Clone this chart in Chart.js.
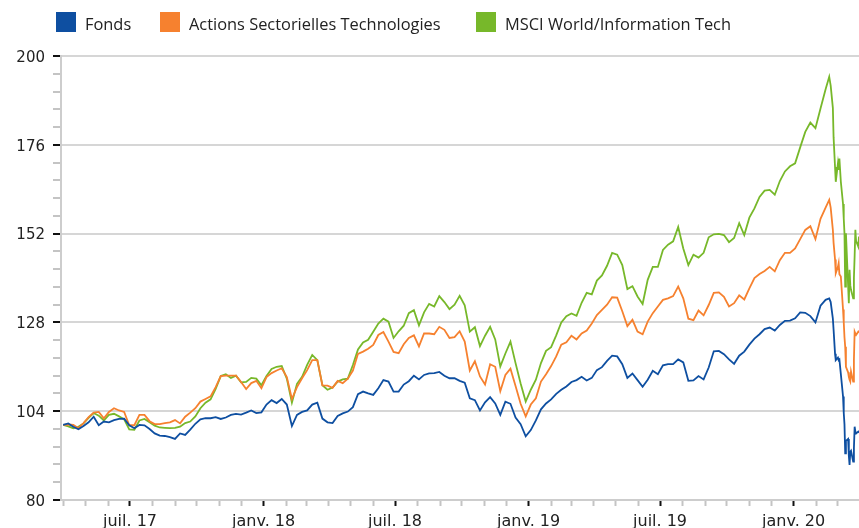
<!DOCTYPE html>
<html>
<head>
<meta charset="utf-8">
<script src="https://cdn.jsdelivr.net/npm/chart.js@4.4.1/dist/chart.umd.min.js"></script>
<style>
  html, body { margin: 0; padding: 0; background: #fff; }
  #wrap { position: relative; width: 859px; height: 528px; overflow: hidden; }
  #chart { position: absolute; left: 0; top: 0; }
  .lg-box { position: absolute; top: 12px; width: 20px; height: 20px; }
  .lg-text { position: absolute; top: 12px; font: 16.4px "Open Sans", sans-serif; color: #222; line-height: 24px; white-space: nowrap; }
</style>
</head>
<body>
<div id="wrap">
  <canvas id="chart" width="859" height="528"></canvas>
  <div id="legend"></div>
</div>
<script>
// weekly closes, then daily around the March 2020 crash
const dates = [
  '2017-03-31','2017-04-07','2017-04-14','2017-04-21','2017-04-28','2017-05-05','2017-05-12','2017-05-19','2017-05-26','2017-06-02',
  '2017-06-09','2017-06-16','2017-06-23','2017-06-30','2017-07-07','2017-07-14','2017-07-21','2017-07-28','2017-08-04','2017-08-11',
  '2017-08-18','2017-08-25','2017-09-01','2017-09-08','2017-09-15','2017-09-22','2017-09-29','2017-10-06','2017-10-13','2017-10-20',
  '2017-10-27','2017-11-03','2017-11-10','2017-11-17','2017-11-24','2017-12-01','2017-12-08','2017-12-15','2017-12-22','2017-12-29',
  '2018-01-05','2018-01-12','2018-01-19','2018-01-26','2018-02-02','2018-02-09','2018-02-16','2018-02-23','2018-03-02','2018-03-09',
  '2018-03-16','2018-03-23','2018-03-30','2018-04-06','2018-04-13','2018-04-20','2018-04-27','2018-05-04','2018-05-11','2018-05-18',
  '2018-05-25','2018-06-01','2018-06-08','2018-06-15','2018-06-22','2018-06-29','2018-07-06','2018-07-13','2018-07-20','2018-07-27',
  '2018-08-03','2018-08-10','2018-08-17','2018-08-24','2018-08-31','2018-09-07','2018-09-14','2018-09-21','2018-09-28','2018-10-05',
  '2018-10-12','2018-10-19','2018-10-26','2018-11-02','2018-11-09','2018-11-16','2018-11-23','2018-11-30','2018-12-07','2018-12-14',
  '2018-12-21','2018-12-28','2019-01-04','2019-01-11','2019-01-18','2019-01-25','2019-02-01','2019-02-08','2019-02-15','2019-02-22',
  '2019-03-01','2019-03-08','2019-03-15','2019-03-22','2019-03-29','2019-04-05','2019-04-12','2019-04-19','2019-04-26','2019-05-03',
  '2019-05-10','2019-05-17','2019-05-24','2019-05-31','2019-06-07','2019-06-14','2019-06-21','2019-06-28','2019-07-05','2019-07-12',
  '2019-07-19','2019-07-26','2019-08-02','2019-08-09','2019-08-16','2019-08-23','2019-08-30','2019-09-06','2019-09-13','2019-09-20',
  '2019-09-27','2019-10-04','2019-10-11','2019-10-18','2019-10-25','2019-11-01','2019-11-08','2019-11-15','2019-11-22','2019-11-29',
  '2019-12-06','2019-12-13','2019-12-20','2019-12-27','2020-01-03','2020-01-10','2020-01-17','2020-01-24','2020-01-31','2020-02-07',
  '2020-02-14',
  '2020-02-19','2020-02-21','2020-02-24','2020-02-25','2020-02-27','2020-02-28','2020-03-02','2020-03-03','2020-03-04','2020-03-06',
  '2020-03-09','2020-03-10','2020-03-11','2020-03-12','2020-03-13','2020-03-16','2020-03-17','2020-03-18','2020-03-19','2020-03-20',
  '2020-03-23','2020-03-24','2020-03-25','2020-03-26','2020-03-27','2020-03-30','2020-03-31'
];

const fonds = [
  100.3, 100.7, 99.8, 99.1, 100.0, 101.0, 102.5, 100.2, 101.2, 101.0,
  101.6, 101.9, 102.0, 100.2, 99.4, 100.3, 100.2, 99.2, 98.0, 97.4,
  97.3, 97.0, 96.5, 98.0, 97.6, 99.0, 100.6, 101.8, 102.1, 102.1,
  102.4, 101.9, 102.3, 103.0, 103.3, 103.1, 103.6, 104.2, 103.5, 103.7,
  105.8, 107.0, 106.2, 107.3, 105.8, 100.0, 103.0, 103.8, 104.2, 105.8,
  106.3, 102.0, 101.0, 100.8, 102.7, 103.4, 103.9, 105.1, 108.6, 109.3,
  108.8, 108.4, 110.2, 112.4, 112.0, 109.3, 109.3, 111.2, 112.1, 113.6,
  112.6, 113.8, 114.2, 114.3, 114.6, 113.6, 112.9, 112.9, 112.2, 111.7,
  107.5, 107.0, 104.2, 106.4, 107.8, 106.1, 103.0, 106.6, 106.0, 102.3,
  100.5, 97.2, 98.9, 101.5, 104.5, 106.1, 107.2, 108.7, 109.8, 110.7,
  111.9, 112.4, 113.3, 112.3, 113.0, 115.1, 115.9, 117.6, 119.0, 118.8,
  116.7, 113.0, 114.2, 112.4, 110.6, 112.5, 114.9, 114.0, 116.4, 116.7,
  116.7, 118.0, 117.2, 112.2, 112.3, 113.5, 112.6, 115.8, 120.2, 120.3,
  119.4, 118.0, 116.8, 119.0, 120.1, 122.0, 123.6, 124.8, 126.2, 126.6,
  125.8, 127.3, 128.4, 128.5, 129.1, 130.7, 130.6, 129.7, 128.0, 132.5,
  134.1,
  134.5, 133.5, 129.0, 126.0, 119.5, 117.8, 118.5, 117.8, 118.0, 114.0,
  108.0, 103.5, 100.5, 92.6, 96.0, 96.5, 92.0, 89.5, 93.0, 93.3,
  90.4, 94.0, 99.8, 98.5, 98.0, 98.5, 98.2
];

const actionsTech = [
  100.3, 100.4, 100.3, 99.4, 100.8, 102.4, 103.6, 103.8, 102.1, 103.8,
  104.8, 104.2, 103.8, 100.2, 100.2, 103.0, 103.0, 101.3, 100.5, 100.5,
  100.8, 101.0, 101.6, 100.7, 102.5, 103.6, 104.8, 106.6, 107.3, 108.0,
  110.5, 113.5, 113.6, 113.6, 113.6, 111.9, 110.0, 111.6, 112.2, 110.2,
  113.2, 114.3, 115.0, 115.6, 113.2, 107.3, 110.5, 112.9, 115.1, 117.8,
  117.8, 111.0, 110.9, 110.3, 112.2, 111.6, 112.8, 115.0, 119.5, 120.1,
  120.9, 121.9, 124.6, 125.4, 122.8, 120.0, 119.7, 122.1, 123.8, 124.5,
  121.5, 125.0, 125.0, 124.8, 126.8, 126.0, 123.8, 124.0, 125.6, 122.8,
  115.0, 117.5, 113.4, 111.2, 116.7, 116.0, 109.4, 113.8, 115.5, 110.8,
  106.0, 102.6, 105.8, 107.5, 112.0, 114.0, 116.2, 118.8, 122.0, 122.6,
  124.4, 123.4, 125.0, 125.8, 127.7, 130.0, 131.4, 132.8, 134.8, 134.7,
  131.0, 127.0, 128.7, 125.5, 124.8, 128.2, 130.5, 132.3, 134.1, 134.5,
  135.1, 137.7, 134.5, 129.0, 128.6, 131.2, 129.9, 132.7, 136.0, 136.1,
  134.9, 132.3, 133.2, 135.3, 134.2, 137.2, 140.0, 141.1, 141.9, 143.0,
  141.8, 144.8, 146.8, 146.8, 148.0, 150.5, 153.0, 154.0, 150.5, 156.0,
  159.0,
  161.1, 159.0, 153.0, 149.5, 145.0, 141.3, 143.0, 144.0, 141.0, 140.4,
  131.5, 128.0, 124.0, 121.4, 116.0, 114.5, 113.3, 112.5, 112.0, 114.7,
  112.0, 118.0, 125.5, 125.0, 124.6, 125.5, 125.2
];

const msciTech = [
  100.3, 99.9, 99.4, 99.8, 100.7, 102.2, 103.5, 102.8, 101.5, 103.0,
  103.3, 102.6, 101.8, 99.1, 99.0, 101.5, 101.9, 101.0, 100.1, 99.6,
  99.5, 99.4, 99.5, 99.8, 100.8, 101.2, 102.6, 104.8, 106.3, 107.2,
  110.0, 113.5, 114.0, 113.0, 113.6, 111.8, 111.9, 113.0, 112.8, 111.0,
  113.5, 115.4, 116.0, 116.2, 112.8, 106.3, 111.4, 113.3, 116.5, 119.2,
  117.8, 111.0, 109.8, 110.4, 112.0, 112.6, 112.8, 116.5, 120.7, 122.6,
  123.3, 125.5, 127.7, 129.0, 128.2, 123.8, 125.6, 127.1, 130.5, 131.3,
  127.2, 130.7, 133.0, 132.3, 135.1, 133.5, 131.6, 132.8, 135.2, 132.6,
  125.5, 126.7, 121.6, 124.4, 126.8, 123.4, 116.1, 119.6, 122.8, 117.0,
  111.5, 106.6, 109.8, 112.5, 117.0, 120.3, 121.3, 124.5, 128.0, 129.7,
  130.4, 129.8, 133.3, 136.0, 135.6, 139.3, 140.7, 143.3, 146.8, 146.3,
  143.5, 137.0, 137.8, 135.0, 133.0, 139.5, 143.0, 143.0, 147.6, 149.0,
  149.9, 153.8, 148.0, 143.5, 146.3, 145.5, 146.8, 151.0, 151.8, 151.9,
  151.6, 149.7, 150.8, 154.8, 151.6, 156.3, 158.8, 161.9, 163.6, 163.8,
  162.5, 166.2, 168.8, 170.2, 171.0, 175.3, 179.5, 182.0, 180.5, 185.8,
  191.0,
  194.4, 192.0, 186.0, 178.0, 170.0, 166.0, 171.0, 169.2, 172.3, 166.0,
  160.0, 156.0, 152.1, 137.7, 152.1, 138.0, 133.2, 142.2, 138.0, 136.8,
  134.5, 140.0, 146.0, 153.0, 150.0, 148.5, 151.2
];

const seriesNames = ['Fonds', 'Actions Sectorielles Technologies', 'MSCI World/Information Tech'];
const seriesColors = ['#0e4fa1', '#f6812f', '#77b82a'];
const legendLeft = [56, 160, 476];

const yMajorTicks = [80, 104, 128, 152, 176, 200];
const xTickDates = ['2017-07-01', '2018-01-01', '2018-07-01', '2019-01-01', '2019-07-01', '2020-01-01'];
const xTickLabels = ['juil. 17', 'janv. 18', 'juil. 18', 'janv. 19', 'juil. 19', 'janv. 20'];
const xStart = '2017-03-28';
const xEnd = '2020-03-31';

// legend
const legend = document.getElementById('legend');
seriesNames.forEach((name, i) => {
  const box = document.createElement('div');
  box.className = 'lg-box';
  box.style.left = legendLeft[i] + 'px';
  box.style.background = seriesColors[i];
  const txt = document.createElement('div');
  txt.className = 'lg-text';
  txt.style.left = (legendLeft[i] + 29) + 'px';
  txt.textContent = name;
  legend.appendChild(box);
  legend.appendChild(txt);
});

// monthly minor ticks, half-year majors with labels
const majorX = xTickDates.map(d => Date.parse(d));
function buildXTicks(scale) {
  const ticks = [];
  for (let y = 2017; y <= 2020; y++) {
    for (let m = 0; m < 12; m++) {
      const v = Date.UTC(y, m, 1);
      if (v < scale.min || v > scale.max) continue;
      const k = majorX.indexOf(v);
      ticks.push({ value: v, major: k >= 0, text: k >= 0 ? xTickLabels[k] : '' });
    }
  }
  scale.ticks = ticks;
}
function buildYTicks(scale) {
  const ticks = [];
  for (let i = 0; i < yMajorTicks.length; i++) {
    ticks.push({ value: yMajorTicks[i], major: true });
    if (i < yMajorTicks.length - 1) {
      const step = (yMajorTicks[i + 1] - yMajorTicks[i]) / 5;
      for (let j = 1; j < 5; j++) ticks.push({ value: yMajorTicks[i] + step * j, major: false });
    }
  }
  scale.ticks = ticks;
}

function makeSet(label, values, color) {
  return {
    label: label,
    data: dates.map((d, i) => ({ x: Date.parse(d), y: values[i] })),
    borderColor: color,
    backgroundColor: color,
    borderWidth: 1.8,
    pointRadius: 0,
    tension: 0,
    fill: false
  };
}

new Chart(document.getElementById('chart'), {
  type: 'line',
  data: {
    datasets: [
      makeSet(seriesNames[0], fonds, seriesColors[0]),
      makeSet(seriesNames[1], actionsTech, seriesColors[1]),
      makeSet(seriesNames[2], msciTech, seriesColors[2])
    ]
  },
  options: {
    responsive: false,
    animation: false,
    layout: { padding: { top: 56, left: 0, right: 0, bottom: 0 } },
    plugins: { legend: { display: false }, tooltip: { enabled: false } },
    scales: {
      x: {
        type: 'linear',
        min: Date.parse(xStart),
        max: Date.parse(xEnd),
        afterBuildTicks: buildXTicks,
        afterFit: (s) => { s.height = 28; },
        border: { color: '#cdcdcd', width: 2 },
        grid: {
          drawOnChartArea: false,
          tickLength: 6,
          tickColor: (c) => (c.tick && c.tick.major ? '#111' : '#c4c4c4'),
          tickWidth: 2
        },
        ticks: {
          autoSkip: false,
          maxRotation: 0,
          minRotation: 0,
          padding: 6,
          color: '#222',
          font: { family: 'DejaVu Sans', size: 16 },
          callback: function (v, i, ticks) { return ticks[i].text; }
        }
      },
      y: {
        min: 80,
        max: 200,
        afterBuildTicks: buildYTicks,
        afterFit: (s) => { s.width = 61; },
        border: { color: '#cdcdcd', width: 2 },
        grid: {
          color: (c) => (c.tick && c.tick.major ? '#d6d6d6' : 'rgba(0,0,0,0)'),
          lineWidth: 2,
          tickLength: 8,
          tickColor: (c) => (c.tick && c.tick.major ? '#111' : '#c4c4c4'),
          tickWidth: 2
        },
        ticks: {
          autoSkip: false,
          padding: 8,
          labelOffset: 2,
          color: '#222',
          font: { family: 'DejaVu Sans', size: 15 },
          callback: function (v, i, ticks) { return ticks[i].major ? String(Math.round(v)) : ''; }
        }
      }
    }
  }
});
</script>
</body>
</html>
